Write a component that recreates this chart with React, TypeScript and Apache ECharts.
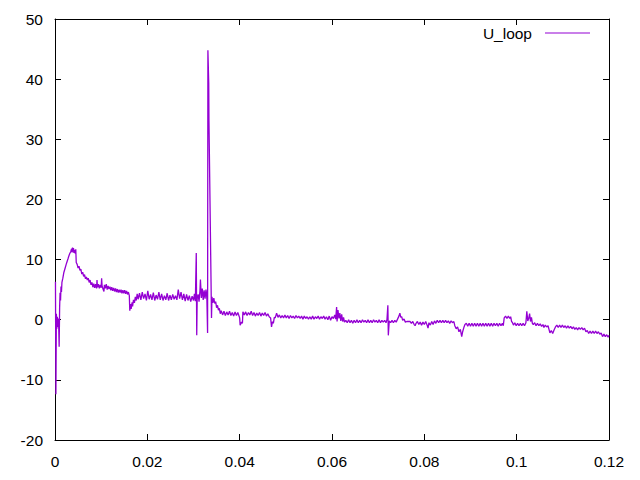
import React, { useEffect, useRef } from "react";
import * as echarts from "echarts";

// ---- data (x in seconds, y = U_loop) ----
const seriesName = "U_loop";
const xTicks = [0, 0.02, 0.04, 0.06, 0.08, 0.1, 0.12];
const yRange = [-20, 50];

const startup: number[][] = [
  [0.0001, 6.3], [0.0002, -12.4], [0.0003, 1.0], [0.0004, -1.5], [0.0005, 0.5], [0.0006, -1.2],
  [0.0007, 0.2], [0.0008, -1.0], [0.0009, -4.5], [0.001, 2.0], [0.0011, 4.5], [0.0012, 3.2],
  [0.0013, 5.5], [0.0014, 4.6], [0.0015, 6.2], [0.0017, 6.9], [0.0019, 7.8], [0.0022, 8.6],
  [0.0025, 9.4], [0.0028, 10.1], [0.003, 10.6], [0.0032, 11.0], [0.0034, 11.3], [0.0036, 11.8],
  [0.0037, 11.2], [0.0038, 12.0], [0.0039, 11.3], [0.004, 11.9], [0.0041, 11.1],
];

const decay: number[][] = [
  [0.0042, 11.6], [0.0044, 11.0], [0.0045, 11.7], [0.0046, 9.5], [0.0048, 9.2], [0.005, 8.6],
  [0.0052, 8.9], [0.0054, 8.2], [0.0056, 8.4], [0.0058, 7.6], [0.006, 7.9], [0.0062, 7.2],
  [0.0064, 7.5], [0.0066, 6.8], [0.0068, 7.1], [0.007, 6.6], [0.0072, 6.9], [0.0074, 6.2],
  [0.0076, 6.6], [0.0078, 5.8], [0.008, 6.2], [0.0082, 5.4], [0.0084, 6.0], [0.0086, 5.3],
  [0.0088, 5.9], [0.009, 5.2], [0.0091, 6.6], [0.0092, 5.4], [0.0094, 5.9], [0.0096, 5.2],
  [0.0098, 5.8], [0.01, 5.3], [0.0101, 6.9], [0.0102, 5.6], [0.0104, 5.1], [0.0106, 4.7],
  [0.0107, 5.8], [0.0109, 5.2], [0.0111, 5.9], [0.0113, 5.0], [0.0115, 5.6], [0.0117, 5.1],
  [0.0119, 5.5], [0.0121, 4.9], [0.0123, 5.4], [0.0125, 4.8], [0.0127, 5.3], [0.0129, 4.7],
  [0.0131, 5.2], [0.0133, 4.6], [0.0135, 5.1], [0.0137, 4.5], [0.0139, 5.0], [0.0141, 4.5],
  [0.0143, 5.0], [0.0145, 4.4], [0.0147, 4.9], [0.0149, 4.4], [0.0151, 4.9], [0.0153, 4.3],
  [0.0155, 4.8], [0.0157, 4.2], [0.0159, 4.6], [0.0161, 4.0],
];

const plateau: number[][] = [
  [0.0162, 1.5], [0.0164, 2.6], [0.0165, 1.8], [0.0167, 2.9], [0.0168, 2.2], [0.017, 3.3],
  [0.0172, 2.8], [0.0174, 3.8], [0.0176, 3.2], [0.0178, 4.3], [0.018, 3.4], [0.0183, 4.4],
  [0.0186, 3.3], [0.0189, 4.6], [0.0192, 3.5], [0.0195, 4.3], [0.0198, 3.2], [0.0201, 4.8],
  [0.0204, 3.4], [0.0207, 4.2], [0.021, 3.3], [0.0213, 4.5], [0.0216, 3.2], [0.0219, 4.1],
  [0.0222, 3.4], [0.0225, 4.6], [0.0228, 3.3], [0.0231, 4.3], [0.0234, 3.2], [0.0237, 4.0],
  [0.024, 3.3], [0.0243, 4.4], [0.0246, 3.2], [0.0249, 4.1], [0.0252, 3.3], [0.0255, 4.2],
  [0.0258, 3.4], [0.0261, 4.0], [0.0264, 3.3], [0.0267, 5.0], [0.027, 3.5], [0.0273, 4.6],
  [0.0276, 3.3], [0.0279, 4.3], [0.0282, 3.1], [0.0285, 4.2], [0.0288, 3.2], [0.0291, 4.0],
  [0.0294, 3.0], [0.0297, 3.9], [0.03, 3.2], [0.0302, 4.3], [0.0304, 3.1],
];

const spikes: number[][] = [
  [0.0306, 11.1], [0.0307, -2.6], [0.0308, 3.5], [0.031, 4.2], [0.0312, 3.0], [0.0314, 4.8],
  [0.0315, 6.7], [0.0317, 3.6], [0.0319, 5.2], [0.0321, 3.3], [0.0323, 4.9], [0.0325, 3.5],
  [0.0327, 5.0], [0.0328, 4.5], [0.0329, 3.4], [0.03305, -2.2], [0.03312, 44.8], [0.0333, 39.3],
  [0.03335, 33.0], [0.0339, 0.3], [0.034, 3.8], [0.0342, 2.8], [0.0344, 3.6], [0.0346, 2.7],
  [0.0348, 3.0], [0.035, 2.0], [0.0352, 2.4], [0.0354, 1.6], [0.0356, 1.9], [0.0358, 1.0],
  [0.036, 1.5], [0.0363, 0.8], [0.0366, 1.4], [0.0369, 0.7], [0.0372, 1.3], [0.0375, 0.8],
  [0.0378, 1.4], [0.0381, 0.7], [0.0384, 1.2], [0.0387, 0.6], [0.039, 1.3], [0.0393, 0.7],
  [0.0396, 1.2], [0.04, 0.3], [0.0401, -0.9], [0.0404, -0.4], [0.0406, -0.6],
];

const levelOne: number[][] = [
  [0.0407, 1.3], [0.041, 0.8], [0.0413, 1.3], [0.0416, 0.7], [0.0419, 1.2], [0.0422, 0.8],
  [0.0425, 1.4], [0.0428, 0.7], [0.0431, 1.2], [0.0434, 0.6], [0.0437, 1.1], [0.044, 0.7],
  [0.0443, 1.2], [0.0446, 0.6], [0.0449, 1.1], [0.0452, 0.7], [0.0455, 1.2], [0.0458, 0.6],
  [0.0461, 1.0], [0.0464, 0.5], [0.0467, 0.3], [0.0469, -1.2], [0.0471, -0.3], [0.0473, -0.6],
  [0.0475, 0.4], [0.0477, 0.3], [0.048, 1.1],
];

const levelHalf: number[][] = [
  [0.0483, 0.4], [0.0486, 0.8], [0.0489, 0.3], [0.0492, 0.7], [0.0495, 0.3], [0.0498, 0.8],
  [0.0501, 0.3], [0.0504, 0.7], [0.0507, 0.2], [0.051, 0.7], [0.0513, 0.3], [0.0516, 0.6],
  [0.0519, 0.2], [0.0522, 0.7], [0.0525, 0.3], [0.0528, 0.6], [0.0531, 0.2], [0.0534, 0.6],
  [0.0537, 0.1], [0.054, 0.6], [0.0543, 0.2], [0.0546, 0.5], [0.0549, 0.1], [0.0552, 0.5],
  [0.0555, 0.1], [0.0558, 0.6], [0.0561, 0.1], [0.0564, 0.5], [0.0567, 0.2], [0.057, 0.6],
  [0.0573, 0.1], [0.0576, 0.5], [0.0579, 0.2], [0.0582, 0.6], [0.0585, 0.1], [0.0588, 0.5],
  [0.0591, 0.0], [0.0594, 0.6], [0.0597, -0.1], [0.06, 0.5], [0.0603, 0.2], [0.0606, 0.8],
  [0.0608, 0.1], [0.061, 2.1], [0.0611, -0.3], [0.0613, 1.6], [0.0615, 0.2], [0.0617, 1.1],
  [0.0619, -0.2], [0.0621, 0.9], [0.0623, -0.3], [0.0625, 0.4], [0.0627, -0.4],
];

const levelZero: number[][] = [
  [0.063, -0.1], [0.0633, -0.5], [0.0636, 0.0], [0.0639, -0.5], [0.0642, -0.1], [0.0645, -0.6],
  [0.0648, -0.1], [0.0651, -0.5], [0.0654, 0.0], [0.0657, -0.5], [0.066, -0.1], [0.0663, -0.5],
  [0.0666, 0.0], [0.0669, -0.4], [0.0672, -0.1], [0.0675, -0.5], [0.0678, 0.0], [0.0681, -0.5],
  [0.0684, -0.1], [0.0687, -0.5], [0.069, 0.0], [0.0693, -0.4], [0.0696, -0.1], [0.0699, -0.5],
  [0.0702, 0.0], [0.0705, -0.5], [0.0708, -0.1], [0.0711, -0.4], [0.0714, -0.1], [0.0717, -0.5],
  [0.0719, 0.0], [0.0721, 2.4], [0.0722, -2.6], [0.0724, -0.2], [0.0727, -0.5], [0.073, -0.1],
  [0.0733, -0.5], [0.0736, -0.1], [0.0739, -0.4], [0.0742, 0.1], [0.0745, 0.6], [0.0747, 1.1],
  [0.0749, 0.4], [0.0751, 0.5], [0.0753, -0.1], [0.0756, 0.1], [0.0759, -0.4], [0.0762, -0.3],
  [0.0765, -0.3], [0.0769, -0.3], [0.0772, -0.6], [0.0775, -0.3], [0.0778, -0.8], [0.078, -1.0],
  [0.0782, -0.6], [0.0785, -0.3], [0.0788, -0.8], [0.0791, -0.4], [0.0794, -0.9], [0.0797, -0.4],
  [0.08, -0.8], [0.0803, -0.3], [0.0806, -0.9], [0.0808, -1.4], [0.081, -0.5], [0.0813, -0.9],
  [0.0816, -0.3], [0.0819, -0.8], [0.0822, -0.2], [0.0825, -0.6], [0.0828, -0.1], [0.0831, -0.5],
  [0.0834, -0.1], [0.0837, -0.5], [0.084, -0.1], [0.0843, -0.5], [0.0846, -0.1], [0.0849, -0.5],
  [0.0852, -0.2], [0.0855, -0.6], [0.0858, -0.2], [0.0861, -0.5], [0.0864, -0.3], [0.0866, -1.0],
  [0.0869, -1.5], [0.0872, -1.2], [0.0875, -2.0], [0.0878, -1.6], [0.0881, -2.8], [0.0883, -2.0],
  [0.0886, -1.2], [0.0888, -0.8],
];

const tail: number[][] = [
  [0.0891, -0.6], [0.0894, -1.1], [0.0897, -0.6], [0.09, -1.1], [0.0903, -0.6], [0.0906, -1.1],
  [0.0909, -0.6], [0.0912, -1.1], [0.0915, -0.6], [0.0918, -1.1], [0.0921, -0.6], [0.0924, -1.1],
  [0.0927, -0.6], [0.093, -1.1], [0.0933, -0.6], [0.0936, -1.1], [0.0939, -0.6], [0.0942, -1.1],
  [0.0945, -0.6], [0.0948, -1.1], [0.0951, -0.6], [0.0954, -1.0], [0.0957, -0.6], [0.096, -1.1],
  [0.0963, -0.6], [0.0966, -1.0], [0.0969, -0.6], [0.0971, -1.0], [0.0973, 0.3], [0.0976, 0.6],
  [0.0979, 0.2], [0.0982, 0.6], [0.0985, 0.2], [0.0987, 0.5], [0.0989, -0.3], [0.0991, -0.5],
  [0.0993, -0.9], [0.0996, -0.5], [0.0999, -1.0], [0.1002, -0.6], [0.1005, -1.0], [0.1008, -0.6],
  [0.1011, -1.0], [0.1014, -0.6], [0.1017, -1.0], [0.102, -0.5], [0.1022, 1.4], [0.1024, -0.2],
  [0.1026, 0.2], [0.1028, 1.0], [0.103, -0.3], [0.1032, 0.4], [0.1034, -0.6], [0.1036, -0.8],
  [0.1039, -0.5], [0.1042, -1.0], [0.1045, -0.6], [0.1048, -1.0], [0.1051, -0.7], [0.1054, -1.1],
  [0.1057, -0.8], [0.1059, -1.3], [0.1062, -0.9], [0.1065, -1.2], [0.1068, -1.0], [0.107, -1.6],
  [0.1072, -2.2], [0.1075, -1.8], [0.1078, -2.3], [0.1081, -1.7], [0.1084, -1.2], [0.1087, -0.9],
  [0.109, -1.3], [0.1093, -0.9], [0.1096, -1.3], [0.1099, -0.9], [0.1102, -1.3], [0.1105, -1.0],
  [0.1108, -1.4], [0.1111, -1.0], [0.1114, -1.4], [0.1117, -1.1], [0.112, -1.5], [0.1123, -1.2],
  [0.1126, -1.6], [0.1129, -1.3], [0.1132, -1.7], [0.1135, -1.3], [0.1138, -1.6], [0.1141, -1.3],
  [0.1144, -1.7], [0.1147, -1.4], [0.115, -2.0], [0.1153, -1.8], [0.1156, -2.3], [0.1159, -1.9],
  [0.1162, -2.3], [0.1165, -1.9], [0.1168, -2.3], [0.1171, -1.9], [0.1174, -2.3], [0.1177, -2.0],
  [0.118, -2.4], [0.1183, -2.2], [0.1186, -2.8], [0.1189, -2.4], [0.1192, -2.8], [0.1195, -2.5],
  [0.1198, -2.9], [0.12, -2.6],
];

const FONT = "'Liberation Sans', Arial, sans-serif";
const FS = 15.5;
const LINE_COLOR = "#9400d3";

export default function App() {
  const ref = useRef<HTMLDivElement>(null);

  useEffect(() => {
    if (!ref.current) return;
    const chart = echarts.init(ref.current, undefined, { renderer: "svg" });
    const data = [
      ...startup, ...decay, ...plateau, ...spikes, ...levelOne,
      ...levelHalf, ...levelZero, ...tail,
    ];
    const axisCommon = {
      type: "value" as const,
      axisLine: { show: true, onZero: false, lineStyle: { color: "#000", width: 1 } },
      axisTick: { show: true, inside: true, length: 6, lineStyle: { color: "#000", width: 1 } },
      splitLine: { show: false },
    };
    chart.setOption({
      animation: false,
      backgroundColor: "#fff",
      textStyle: { fontFamily: FONT },
      grid: { left: 55, right: 31, top: 19, bottom: 40, containLabel: false },
      legend: {
        show: true,
        data: [seriesName],
        right: 45,
        top: 20,
        align: "right",
        icon: "rect",
        itemWidth: 45,
        itemHeight: 1,
        textStyle: { fontFamily: FONT, fontSize: FS, color: "#000", padding: [0, 8, 0, 0] },
      },
      xAxis: [
        {
          ...axisCommon,
          position: "bottom",
          min: xTicks[0],
          max: xTicks[xTicks.length - 1],
          interval: 0.02,
          axisLabel: {
            show: true, color: "#000", fontSize: FS, fontFamily: FONT, margin: 13,
            formatter: (v: number) => String(+v.toFixed(4)),
          },
        },
        {
          ...axisCommon,
          position: "top",
          min: xTicks[0],
          max: xTicks[xTicks.length - 1],
          interval: 0.02,
          axisLabel: { show: false },
        },
      ],
      yAxis: [
        {
          ...axisCommon,
          position: "left",
          min: yRange[0],
          max: yRange[1],
          interval: 10,
          axisLabel: { show: true, color: "#000", fontSize: FS, fontFamily: FONT, margin: 12 },
        },
        {
          ...axisCommon,
          position: "right",
          min: yRange[0],
          max: yRange[1],
          interval: 10,
          axisLabel: { show: false },
        },
      ],
      series: [
        {
          name: seriesName,
          type: "line",
          xAxisIndex: 0,
          yAxisIndex: 0,
          data,
          showSymbol: false,
          symbol: "none",
          color: LINE_COLOR,
          lineStyle: { color: LINE_COLOR, width: 1.3 },
        },
      ],
    });
    return () => chart.dispose();
  }, []);

  return (
    <div
      ref={ref}
      style={{ position: "absolute", left: 0, top: 0, width: 640, height: 480 }}
    />
  );
}
